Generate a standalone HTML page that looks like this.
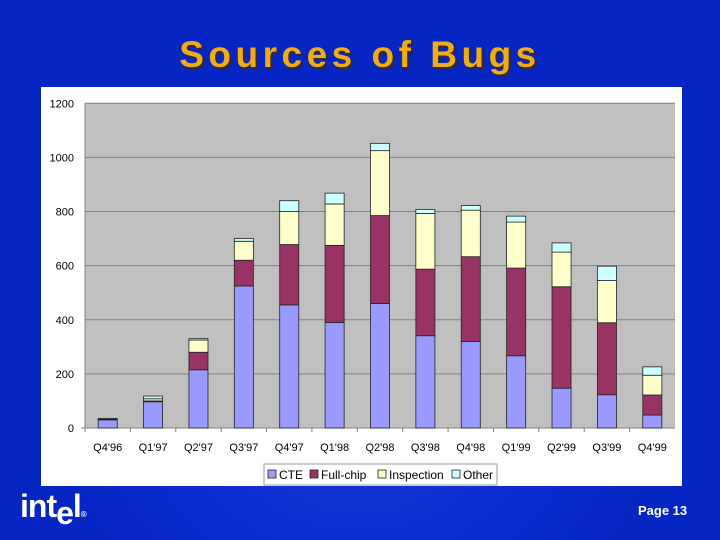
<!DOCTYPE html>
<html><head><meta charset="utf-8"><style>
body{margin:0;width:720px;height:540px;overflow:hidden;font-family:"Liberation Sans",sans-serif;}
#bg{position:absolute;left:0;top:0;width:720px;height:540px;background:radial-gradient(ellipse 300px 260px at 360px 400px,#1a3fd8 0%,#0a2cd0 60%,#0626c4 100%);}
#title{position:absolute;left:0;width:720px;top:34px;text-align:center;font-size:37px;font-weight:bold;color:#eeab1a;text-shadow:2px 2px 1px #3a2a20;letter-spacing:4.5px;}
#chartbox{position:absolute;left:41px;top:87px;width:641px;height:399px;background:#fff;}
#logo{position:absolute;left:20px;top:488px;font-size:32px;font-weight:bold;color:#fff;letter-spacing:-1px;}
#page{position:absolute;left:638px;top:503px;font-size:13px;font-weight:bold;color:#fff;}
</style></head><body>
<div id="bg"></div>
<div id="title">Sources of Bugs</div>
<div id="chartbox"></div>
<svg id="chart" width="720" height="540" style="position:absolute;left:0;top:0"></svg>
<div id="logo">int<span style="position:relative;top:7px">e</span>l<span style="font-size:8px">®</span></div>
<div id="page">Page 13</div>
<script>
const categories=["Q4'96","Q1'97","Q2'97","Q3'97","Q4'97","Q1'98","Q2'98","Q3'98","Q4'98","Q1'99","Q2'99","Q3'99","Q4'99"];
const cte=[30,97,215,525,455,390,460,341,320,267,147,123,48];
const fullchip=[0,3,65,95,223,285,325,246,313,324,375,266,74];
const inspection=[3,8,45,70,122,153,240,206,172,170,128,156,73];
const other=[2,10,5,10,40,40,27,15,17,22,34,53,31];
const yTicks=[0,200,400,600,800,1000,1200];
const seriesNames=["CTE","Full-chip","Inspection","Other"];
const seriesColors=["#9999ff","#993366","#ffffcc","#ccffff"];
const NS="http://www.w3.org/2000/svg";
const svg=document.getElementById('chart');
const L=85,R=675,T=103.3,B=428,yMax=1200;
const y=v=>B-(v/yMax)*(B-T);
const band=(R-L)/categories.length;
const x=i=>L+band*i;
function mk(t,a){const e=document.createElementNS(NS,t);for(const k in a)e.setAttribute(k,a[k]);svg.appendChild(e);return e;}
const pa=mk('rect',{x:L,y:T,width:R-L,height:B-T,fill:'#c0c0c0'});


yTicks.forEach(t=>{
  if(t>0){const g=mk('line',{x1:L,x2:R,y1:y(t),y2:y(t),stroke:'#808080','stroke-width':1});
  
  }
  const tl=mk('text',{x:L-11,y:y(t)+4,'text-anchor':'end','font-size':11,fill:'#000','font-family':'Liberation Sans, sans-serif'});
  tl.textContent=t;
  
  
});
mk('line',{x1:L,x2:L,y1:T,y2:B,stroke:'#808080'});
mk('line',{x1:L-4,x2:R,y1:B,y2:B,stroke:'#808080'});
const series=[cte,fullchip,inspection,other];
categories.forEach((c,i)=>{
  let base=0;const bw=band*0.42,bx=x(i)+(band-bw)/2;
  series.forEach((s,k)=>{
    const v=s[i];if(v<=0)return;
    const r=mk('rect',{x:bx,y:y(base+v),width:bw,height:y(base)-y(base+v),fill:seriesColors[k],stroke:'#222','stroke-width':0.8});
    
    
    base+=v;
  });
  mk('line',{x1:x(i),x2:x(i),y1:B,y2:B+4,stroke:'#808080'});
  const tl=mk('text',{x:x(i)+band/2,y:B+23,'text-anchor':'middle','font-size':11,fill:'#000','font-family':'Liberation Sans, sans-serif'});
  tl.textContent=c;
  
  
});
const lg=mk('rect',{x:264,y:464,width:233,height:21,fill:'#fff',stroke:'#999'});


const lx=[268,310,378,452];
seriesNames.forEach((n,k)=>{
  const s=mk('rect',{x:lx[k],y:470,width:8,height:8,fill:seriesColors[k],stroke:'#222','stroke-width':0.8});
  
  
  const t=mk('text',{x:lx[k]+11,y:479,'font-size':12,fill:'#000','font-family':'Liberation Sans, sans-serif'});
  t.textContent=n;
  
  
});
</script>
</body></html>
